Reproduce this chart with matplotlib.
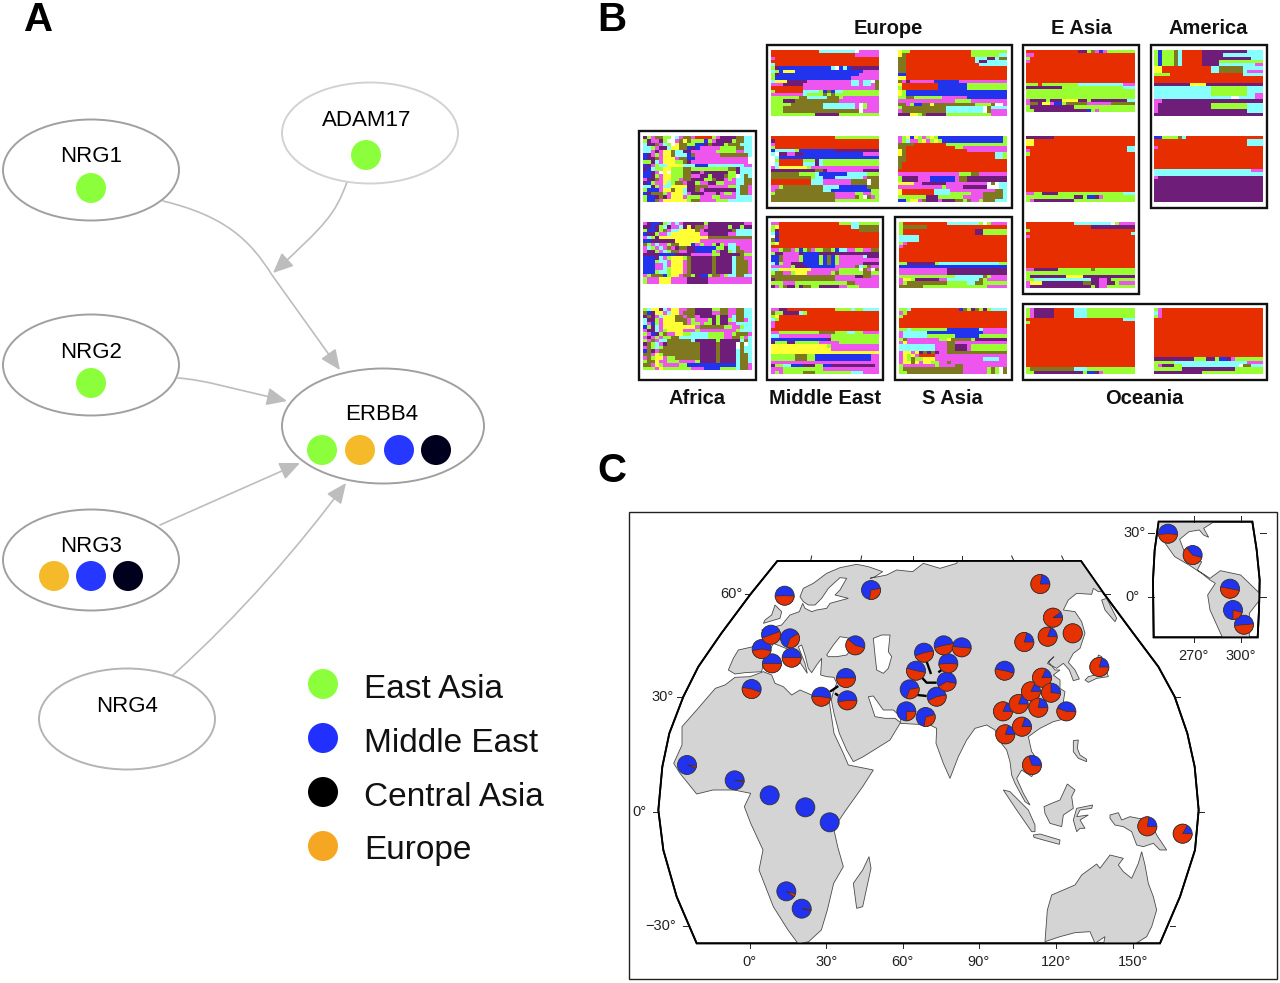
import numpy as np
import matplotlib
matplotlib.use("Agg")
import matplotlib.pyplot as plt
from matplotlib.colors import ListedColormap
from matplotlib.patches import Ellipse, Circle, Rectangle, Polygon, Wedge, FancyArrowPatch
from matplotlib.path import Path

plt.rcParams["font.family"] = ["Liberation Sans", "DejaVu Sans"]

# ---------------------------------------------------
# panel A: gene network
# ---------------------------------------------------
NODE_NAMES = ["NRG1", "ADAM17", "NRG2", "ERBB4", "NRG3", "NRG4"]
NODE_X = [91, 370, 91, 383, 91, 127]
NODE_Y = [170, 133, 365, 426, 560, 719]
NODE_W = [176, 176, 176, 202, 176, 176]
NODE_H = [101, 101, 101, 115, 101, 101]
NODE_EDGE = ["#A0A0A0", "#D2D2D2", "#A0A0A0", "#A0A0A0", "#A0A0A0", "#B4B4B4"]
LABEL_Y = [157, 120, 352, 414, 547, 707]
LABEL_X = [91, 367, 91, 382, 91, 127]

DOT_X = [91, 366, 91, 322, 360, 399, 436, 54, 91, 128]
DOT_Y = [188, 155, 383, 450, 450, 450, 450, 576, 576, 576]
DOT_COL = ["#8CFF3C", "#8CFF3C", "#8CFF3C", "#8CFF3C", "#F5BA2A", "#2638FF", "#00001E",
           "#F5BA2A", "#2638FF", "#00001E"]

LEGEND_NAMES = ["East Asia", "Middle East", "Central Asia", "Europe"]
LEGEND_COLS = ["#8CFF3C", "#2230FF", "#000000", "#F5A623"]
LEGEND_Y = [684, 738, 792, 846]

# cubic links between the nodes: start, control, control, end
LINK_1 = [(163, 201), (225, 216), (250, 240), (272, 275)]
LINK_1B = (340, 370)
LINK_2 = [(347, 182), (335, 215), (325, 225), (273, 273)]
LINK_3 = [(178, 378), (205, 380), (230, 388), (287, 401)]
LINK_4 = [(160, 525), (205, 505), (250, 485), (300, 463)]
LINK_5 = [(173, 675), (240, 615), (300, 545), (346, 483)]

# ---------------------------------------------------
# panel B: ancestry blocks, one letter per cell
# ---------------------------------------------------
LETTERS = "RGBMCPOYW"
BLOCK_COLS = ["#E62E00", "#99FF33", "#2233EE", "#EE55EE", "#88FFFF",
              "#6E1E78", "#807820", "#FFFF33", "#FFFFFF"]

EUROPE_1 = [
    "RRRRRRRRRRRRCCCCCCCCCWMMMMM", "RRRRRRRRRRRRRRRRRRRRRMMMMMM", "MRRRRRRRRRRRRRRRRRRRRRRRRRR",
    "RRRRRRRRRRRRRRRRRRRRRRRRRRR", "CRRRRRRRRRRRRRRRRRRRRRRRRRR", "GPBBBBBBBBBBBBBCWBCBPPPPPPP",
    "CGBYYYBBBBBBBBBBBBBBBBBMMMM", "GPBBBBBBBBBBBBBBBBBBBBMMMMM", "GBBBBBBBBBBBBBBBBBBBMMMMMMM",
    "CYYYPPPPPMMMMMMMMMMMCCMCCWO", "MMMPPPPPMMMMMMMMMMMMCCMCCMO", "RRRRRRRRMMMMMMMMMMMMMMMMMMO",
    "GRRRRRRRCCCCGBOBCCGGGGGGGGG", "MMMMMMMMCGGGGOGOGGGGGGGGGGG", "GGGGGGGOOCCCCCOOOGMMMMMMMMM",
    "GGGPPPOOOOOOOOOOOMMMMMMMMMM", "GGGGGOOOOOOOOCCCCCCCCMWGMMM", "GGGOOOOOOOOOOCCCCCCCCMWGMMM",
    "GGGOOOOOOOOOOOOOOOOOOOWMMMM", "GGGGGGGGGGGPPPPPPGGGGGGGGGG",
]
EUROPE_2 = [
    "YGGRRRRRRRRRRRRRRRGGGGGGGGG", "YORRRRRRRRRRRRRRRRGGGGGGGCC", "OORRRRRRRRRRRRRRRRRCCCPPCOO",
    "OORRRRRRRRRRRRRRRRRCPPCCCCC", "OORRRRRRRRRRRRRRRRRRCCCCCCC", "OORRRRRRRRRRRRRRRRRRRRRRRRR",
    "OORRRRRRRRRRRRRRRRRRRRRRRRR", "BBRRRRRRRRRRRRRRRRRRRRRRRRR", "YYRRRRRRRRRRRRRRRRRRRRRRRRR",
    "OMPMMMMMMBBBBBBMMMMMMMMMMMM", "YRRRRRRRRRBBBBBBBGGGGGGGGGG", "GRRRRRRRRRBBBBBBBGGGGGGGGGG",
    "YGBBBBBBBBBBBBBBBBBBBBBBBBB", "YGBBBBBBBBBBBBBBBBBBBBBBBBB", "GGOOGGGGGGGMMMMMMBBBBBBBBBB",
    "MMMMMMMMMMMMMMGGGGMMMMMMMMM", "OOMGBBOOYOOOOOOOOOOGGGGOWWM", "GOOOOOOOOOOOCCCCCCCCCWOCCCC",
    "MOOOOOOOOOOOCCCCCCCCCWOMMMM", "PPPYYGOPPPPPGGGGGGGGGGGMMMM",
]
EUROPE_3 = [
    "RRRRRRRRRRRRRRRRGGGGGGGGGGG", "PRRRRRRRRRRRRRRRRRRRRRRRRRR", "MRRRRRRRRRRRRRRRRRRRRRRRRRR",
    "GRRRRRRRRRRRRRRRRRRRRRRRRRR", "BCCCCCGBBBBBBBBBPPPPPPPPPPP", "CWPPMMPPBBBBBBBBBBBBBBBMMMM",
    "WCBBBBBBBBBBBBBBBBBBBBBBBBB", "WGRRRRRRGGGPCGGGGGGGGGGGGGG", "WCRRRRRRCCCPCGGGGGGGGGGGGGG",
    "MCYYYYYYYGMMMMMMMMMMMMMMMMM", "PPPPPPPPPPPOOPMMMMMMMMMPPPP", "OOOOOOOGGGGCBBBBBBBCCCCCGGG",
    "OOOOOOOOOOGCCBBBCCCCCCCMOOO", "RRRRRRRRRRCCCMMMMMMMOOOOWOO", "RRRRRRRRRRCCCMMMMMMMOOOOWOO",
    "MMGOOOOOOOOOOCCCCBBBBBBBOOO", "MOOOOOOOOOOOOCCBBBBBBBBBBGG", "GOOOOOOOOOOOOOOOMMMMMGGMMGG",
    "OOOOOOOOOOOOOOOOMMMMMOGWOMG", "OOOOOOOOOOOOOOOOGGGGGGGGGGG",
]
EUROPE_4 = [
    "MGYBYGMGYGBBBBBBBBBBBBBBBBG", "MGCMMGYMGYGBBBBBBBBBBBBBBBG", "OOOORRRRRRRRGGGGGGGGGGGGGGG",
    "OORRRRRRRRRRRRGGMMMMMMMMMMM", "YORRRRRRRRRRRRRRRMMMMMMMMMM", "YORRRRRRRRRRRRRRRRRRRRRRCCG",
    "OORRRRRRRRRRRRRRRRRRRRRRCCG", "OORRRRRRRRRRRRRRRRRRRRRRRRR", "ORRRRRRRRRRRRRRRRRRRRRRRRRR",
    "ORRRRRRRRRRRRRRRRRRRRRRRRRR", "RRRRRRRRRRRRRRRRRRRRRRRRRRR", "MMMMMMMMMMMMMMMGGGOOMMMMMMM",
    "GPPPPMMMBBBBBBMOOPPPPPPPPPP", "GPPPPMMMBBBBBBMOOPPPPPPPPPP", "YYYYMMPPPPPPMMMMMMMMMMWOWCC",
    "MMMMMMMMMMMGMMMMPPPPPPWWWCC", "YRRRRRRRRCCCCMMMMMMMMMMMOOC", "YRRRRRRRRCCCCGGGGGMMMOOOOOC",
    "GGGGGGGPPPGGGGGGMMMMMOOOOOC", "BBGYYMOPPPMPPPOOGOMMGOOOCCC",
]
MIDEAST_1 = [
    "MMRRRRRRRRRRRRRRRGGGCCGGGGG", "GYRRRRRRRRRRRRRRRRRRCCOOOOO", "GPRRRRRRRRRRRRRRRRRRRROOOOO",
    "CBRRRRRRRRRRRRRRRRRRRRRRRRR", "WPRRRRRRRRRRRRRRRRRRRRRRRRR", "OBRRRRRRRRRRRRRRRRRRRRRRRRR",
    "GYRRRRRRRRRRRRRRRRRRRRRRRRR", "RRRRRRRRRRRRRRRRRRRRRRRRRRR", "MMGOOMGBGOMGGOOGBCCMMGGMMOO",
    "GPPMMMMPBBBBPPPPPPPPPPPPPPP", "BBOMMMMGBBBBGBOBGMMMMMMCPPP", "BBOMMMMGBBBBGBOBGMMMMMMMMMM",
    "CBGMMPPPBBBBGBOBGMMMMMMPPPP", "MMMMMGPPPBBBBBBBMMMMMOCGOMM", "CCYYYYYYYYMMMMMMMGGGGGWOMWO",
    "GOOMMGYYYMMMMMMGOGGGGGGOOGG", "OOOOOOOOOOOOOOOOMMMMMPPOOMM", "POOOOOOOOOOOOOOOMMMMMMMMMMM",
    "GGGMMMGGGGGGGGGGGGGOOMMMMMM", "PMGOPPGPOOGGPPPPPMMGGGMMMMM",
]
MIDEAST_2 = [
    "MMPPRRRRRRRRRRRRGGGGCGGCCCC", "OGGPPPPCGRRRRRRRRRRRRRRRRRR", "GYRRRRRRRRRRRRRRRRRRRRRRRRR",
    "CGRRRRRRRRRRRRRRRRRRRRRRRRR", "MRRRRRRRRRRRRRRRRRRRRRRRRRR", "MRRRRRRRRRRRRRRRRRRRRRRRRRR",
    "RRRRRRRRRRRRRRRRRRRRRRRRRRR", "MMGGGGGGGGGGOOOOGGGCCGGMMMM", "CCMMMMMMMMMMMMMGGGGGGGGGGGG",
    "BBBBBBBBBBBBBBPGGGGGGGGGGGG", "PGGGPPGGGGGGMMMMMGGGGGGGGGG", "YYYYYYYYYYYYYYGMMMMMMMMMMMM",
    "YYYYYYYYYYYYYYYMMMMMMMMMMMM", "YYYYYYYYYYYYYYYYYYYYYYYYYYY", "GGGGGGOOOGGBBBBBBBBBBBBBBMM",
    "GGGGGGOOOGGBBBBBBBBBBBBBBMM", "MMMMMMMMMMMMMMMMMMMMMMMMMMM", "PGGCCBBBPPPGGBBPPPPPPPPPPPM",
    "MMMGGGGGGGGGGMMMMMMMMMMMMMM", "MGMGGGGGOOOGGGGGGGGGCCCMMMM",
]
SASIA_1 = [
    "GRRRRRRRRRRRCCCCCCCCGWGMMMM", "GOOOOOORRRRRRRRRRRRRRRRRRRR", "GRRRRRRRRRRRRRRRRRRPPGGGGGG",
    "GRRRRRRRRRRRRRRRRRRPPGGGGGG", "CCCCCRRRRRRRRRRRRRRRRRRRRRR", "CCCCCRRRRRRRRRRRRRRRRRRRRRR",
    "GMRRRRRRRRRRRRRRRRRRRRRRRRR", "MRRRRRRRRRRRRRRRRRRRRRRRRRR", "RRRRRRRRRRRRRRRRRRRRRRRRRRR",
    "RRRRRRRRRRRRRRRRRRRRRRRRRRR", "RRRRRRRRRRRRRRRRRRRRRRRRRRR", "RRRRRRRRRRRRRRRRRRRRRRRRRRR",
    "GGPPPPPPPGCCCCCCCCCCCCCCCGG", "BBBBBBBBBBBBBBBBBBBBBBBBBBB", "MMMMMMMMMMMMPPPPPPPPPPPPPPP",
    "MMMMMMMMMMMMPPPPPPPPPPPPPPP", "GGGGGGGGGGGGGGCCCCCCCOGMMMM", "MYYGPPPPPPMMCCCCCCCCOGMMMMM",
    "MGOOOOOOOOOOGGGGGCCOOGGGGGG", "OOOOOOGGGGGGGGGGGGGGGGMMMMM",
]
SASIA_2 = [
    "GGCRRRRRRRRRRRRBOGPOGPGCCCC", "MGRRRRRRRRRRRRRRRRRRRRRRRRR", "GRRRRRRRRRRRRRRRRRRRRRRRRRR",
    "RRRRRRRRRRRRRRRRRRRRRRRRRRR", "RRRRRRRRRRRRRRRRRRRRRRRRRRR", "RRRRRRRRRRRRRRRRRRRRRRRRRRR",
    "GGCGGGGGGGGGBBBBBBBBCMMMMMM", "MCCCCCCBBBBBBBBBBBBBBMMMMMM", "MCCCCCCGGGGGGGBBBBBBGGGGGGG",
    "GOMMMMMMMMGGYOOOOOGPPPPPPPP", "MYMMMMMMMMMMOOMMMMMMMMMMMMM", "CCCCCCCCCMMMOOPPPMGGGGGGGGG",
    "CCCCCCCCCMMMOOPPPMGGGGGGGGG", "MYYMYPOPOPMMOOOOOOOOOOOOOOO", "MYGYMRRRRMMMMMMMMMMMMMMMMMM",
    "MYGOGGYYYMMMMMMMMMMMMCCCCMM", "MYYOYMYYGGMMOMMMMMMMMMMMMMM", "GMMMMMMMMGMMMMOOMMMMMMMMMMM",
    "GOOOOOOOOOOOOOOOMMMMMMGOGWO", "GGOOOOOOOOOOOOOOMMMMMMGOGWO",
]
EASIA_1 = [
    "RRRRRRRRRRRRRPPGOMBMGGGGGGG", "MMRRRRRRRRRRRRRRRRRRRRRRRRR", "GRRRRRRRRRRRRRRRRRRRRRRRRRR",
    "MRRRRRRRRRRRRRRRRRRRRRRRRRR", "RRRRRRRRRRRRRRRRRRRRRRRRRRR", "RRRRRRRRRRRRRRRRRRRRRRRRRRR",
    "RRRRRRRRRRRRRRRRRRRRRRRRRRR", "RRRRRRRRRRRRRRRRRRRRRRRRRRR", "RRRRRRRRRRRRRRRRRRRRRRRRRRR",
    "RRRRRRRRRRRRRRRRRRRRRRRRRRR", "GGGRGGGGGGGGGCCCCCCCCCCCMMM", "PPPPPPPPPGGGGGGGGGGGGGGGCCC",
    "GGGGGGGGGGGGGGGGGGGGGGGGGGG", "GGGGGGGGGGGGGGGGGGGGGGGGGGG", "GGGGGGGGGGGGGGGGGGGGGGGGGGG",
    "MPPPPGPPPYYYYPPGPPPPPPPPPCC", "MOOPYYMBBGOOOOOMMMMMMOOOOOO", "GPPPPPPPPPPPGGGGGGGGGGGGGGG",
    "GGPPPPPPPPPPPPPBGMGGGGGGGGG",
]
EASIA_2 = [
    "PPPPPPPRRRRRRRRRRRRRRRRRRRR", "YYRRRRRRRRRRRRRRRRRRRRRRRRR", "YYRRRRRRRRRRRRRRRRRRRRRRRRR",
    "RRRRRRRRRRRRRRRRRRRRRRRRRCC", "MRRRRRRRRRRRRRRRRRRRRRRRRCC", "GRRRRRRRRRRRRRRRRRRRRRRRRRR",
    "RRRRRRRRRRRRRRRRRRRRRRRRRRR", "RRRRRRRRRRRRRRRRRRRRRRRRRRR", "RRRRRRRRRRRRRRRRRRRRRRRRRRR",
    "RRRRRRRRRRRRRRRRRRRRRRRRRRR", "RRRRRRRRRRRRRRRRRRRRRRRRRRR", "RRRRRRRRRRRRRRRRRRRRRRRRRRR",
    "RRRRRRRRRRRRRRRRRRRRRRRRRRR", "RRRRRRRRRRRRRRRRRRRRRRRRRRR", "RRRRRRRRRRRRRRRRRRRRRRRRRRR",
    "RRRRRRRRRRRRRRRRRRRRRRRRRRR", "RRRRRRRRRRRRRRRRRRRRRRRRRRR", "MMGGPPPPGGGGGGGGGGGGGGGGCCC",
    "GGGGGGGGGGGGPPGBBPMGGGGGGGG", "GMPPPPPPPPPPGGGGGGGGGGGGGGG",
]
EASIA_3 = [
    "RRRRRRRRRRRRCCCCCCCCCWGMMMM", "RRRRRRRRRRRRRRRRPPPPPPPPPPP", "GRRRRRRRRRRRRRRRRRRRRRRRRRR",
    "RRRRRRRRRRRRRRRRRRRRRRRRRRC", "MRRRRRRRRRRRRRRRRRRRRRRRRRR", "RRRRRRRRRRRRRRRRRRRRRRRRRRR",
    "RRRRRRRRRRRRRRRRRRRRRRRRRRR", "RRRRRRRRRRRRRRRRRRRRRRRRRRR", "RRRRRRRRRRRRRRRRRRRRRRRRRRR",
    "RRRRRRRRRRRRRRRRRRRRRRRRRRR", "RRRRRRRRRRRRRRRRRRRRRRRRRRR", "RRRRRRRRRRRRRRRRRRRRRRRRRRR",
    "RRRRRRRRRRRRRRRRRRRRRRRRRRR", "RRRRRRRRRRRRRRRRRRRRRRRRRRR", "MMPPPPPPGGGGGGGGOGGGGGGGGGG",
    "GGGGGGGGGGGGGGGGGGGGGGGGGGG", "GPPPPPPPPPYYYYPPPPPPPPPPPPP", "GGCCCCCCCCCCCCCCPPMMPGGGGGG",
    "MYYYPPPPPPPPPPOOPPMMPPGMMMM", "MPPPPPPPPPPPPPPPGPMMGGGGGGG",
]
AMERICA_1 = [
    "GBGGGOCRRRRRPPPPPPPPPPPCCCC", "GBGGGOCRRRRRPPPPPCCCCCCCCCC", "GBGGGOCRRRRRPPPPPPPPPPPPCCC",
    "GBGGGOCRRRRRPPPPGGGGGGGGGGG", "GBGGGOCRRRRRPPPPCCCCCCCCCMM", "YYRRRRRRRRRRRRCCOOOOOOCCCCC",
    "YYRRRRRRRRRRRRCCOOOOOOCMMMM", "GGGGRRRRRRRRRRRRRRRRRRCCCCC", "RRRRRRRRRRRRRRRRRRRRRRRRRRR",
    "RRRRRRRRRRRRRRRRRRRRRRRRRRR", "PPPPPPPPPYYYYPPPPPPPPPPPPPP", "CCCCCCCCCCCCCCGGGGGGGGGCCCC",
    "CCCCCCCCCCCCCCGGGGGGGGGCCCC", "CCCCCCCCCCCCCCGGGGGGGGGCCMM", "CCCCCCCCCCCCCCCCCCCWWCCCCMM",
    "MMPPPPPPPPPPPPPPPPPPPPPPPPP", "MPPPPPPPPPPPPPGGGGGGGGGCCCC", "MPPPPPPPPPPPPPGGGGGGGGGCCCC",
    "MPPPPPPPPPPPPPPPPPPPPPPCCCC", "PPPPPPPPPPPPPPPPPPPPPPPPPPP",
]
AMERICA_2 = [
    "BBGGGGOCRRRRRRRRRRRRRRRRRRR", "RRRRRRRRRRRRRRRRRRRRRRRCCCC", "RRRRRRRRRRRRRRRRRRRRRRRCCCC",
    "MRRRRRRRRRRRRRRRRRRRRRRRRRR", "RRRRRRRRRRRRRRRRRRRRRRRRRRR", "RRRRRRRRRRRRRRRRRRRRRRRRRRR",
    "RRRRRRRRRRRRRRRRRRRRRRRRRRR", "RRRRRRRRRRRRRRRRRRRRRRRRRRR", "RRRRRRRRRRRRRRRRRRRRRRRRRRR",
    "RRRRRRRRRRRRRRRRRRRRRRRRRRR", "CCCCCCCCCCCCCCCCCCCCCCCCMMM", "CCCCCCCCCCCCCCCCCCCCCCCCCCC",
    "MPPPPPPPPPPPPPPPPPPPPPPPPPP", "PPPPPPPPPPPPPPPPPPPPPPPPPPP", "PPPPPPPPPPPPPPPPPPPPPPPPPPP",
    "PPPPPPPPPPPPPPPPPPPPPPPPPPP", "PPPPPPPPPPPPPPPPPPPPPPPPPPP", "PPPPPPPPPPPPPPPPPPPPPPPPPPP",
    "PPPPPPPPPPPPPPPPPPPPPPPPPPP", "PPPPPPPPPPPPPPPPPPPPPPPPPPP",
]
OCEANIA_1 = [
    "GMPPPPPRRRRRCCCGGGGGGGGGGGG", "GMPPPPPRRRRRCCCGGGGGGGGGGGG", "GMPPPPPRRRRRCCCGGGGGGGGGGGG",
    "RRRRRRRRRRRRRRRRRRRRRRRRCCC", "GRRRRRRRRRRRRRRRRRRRRRRRRRR", "RRRRRRRRRRRRRRRRRRRRRRRRRRR",
    "RRRRRRRRRRRRRRRRRRRRRRRRRRR", "RRRRRRRRRRRRRRRRRRRRRRRRRRR", "RRRRRRRRRRRRRRRRRRRRRRRRRRR",
    "RRRRRRRRRRRRRRRRRRRRRRRRRRR", "RRRRRRRRRRRRRRRRRRRRRRRRRRR", "RRRRRRRRRRRRRRRRRRRRRRRRRRR",
    "RRRRRRRRRRRRRRRRRRRRRRRRRRR", "RRRRRRRRRRRRRRRRRRRRRRRRRRR", "RRRRRRRRRRRRRRRRRRRRRRRRRRR",
    "RRRRRRRRRRRRRRRRRRRRRRRRRRR", "RRRRRRRRRRRRRRRRRRRRRRRRRRR", "RRRRRRRRRRRRRRRRRRRRRRRRRRR",
    "GOOOOOOOOOOOCCCGGGGGGGGGGGG", "GGPPPPPPPPPPPPGBBPMGGGGGGGG",
]
OCEANIA_2 = [
    "GMRRRRRRRRRRRRRRRRRRRRRRRRR", "CMRRRRRRRRRRRRRRRRRRRRRRRRR", "GMRRRRRRRRRRRRRRRRRRRRRRRRR",
    "RRRRRRRRRRRRRRRRRRRRRRRRRRR", "RRRRRRRRRRRRRRRRRRRRRRRRRRR", "RRRRRRRRRRRRRRRRRRRRRRRRRRR",
    "RRRRRRRRRRRRRRRRRRRRRRRRRRR", "RRRRRRRRRRRRRRRRRRRRRRRRRRR", "RRRRRRRRRRRRRRRRRRRRRRRRRRR",
    "RRRRRRRRRRRRRRRRRRRRRRRRRRR", "RRRRRRRRRRRRRRRRRRRRRRRRRRR", "RRRRRRRRRRRRRRRRRRRRRRRRRRR",
    "RRRRRRRRRRRRRRRRRRRRRRRRRRR", "RRRRRRRRRRRRRRRRRRRRRRRRRRR", "RRRRRRRRRRRRRRRRRRRRRRRRRRR",
    "PPPPPPPPPPGGGPPGBBPMGGGGGGG", "GGGGGCCCCCCCCCCCCCCCCCCMMMM", "GMPPPGGCCCCCCCCCCCCCCWOOCCC",
    "GGGGGGGPPPPPPPPPPPPPGGGGGGG", "PPPPPPPPPPPPGGGGGGGGGGGGGGG",
]
AFRICA_1 = [
    "PGMOOGGWCMOOMRRRRGMPPPPOOCC", "GPMMPGWWMOYOGGGBGMPPPPGOOCC", "CPPOMCGWYOOGGBBPOPPPGOOOCCC",
    "CCGMPPCYYOOBPBMMMMMGGGGOOCC", "CCMPMYYOCCPPMMMMMMGGGGGMMCC", "BPMGMYYOCCCBOMMMMMMOOOOOOOC",
    "BPPOMYYYMOOBBMMMMMMMMMMMMMW", "GGPCMYYYGGOPMMMMMMMMMMMMMMW", "BPMGCCYYYYCCCBBBCCCCCCCCCMM",
    "PBCGGYYGGGOOGGGGGGGGGOOPCCC", "BBPMWYWGGGOOPPMPPPPPPGGPCCC", "BBPGMYYGGGOOMMPPGPPPOGGWCOC",
    "MPPOMYYGGMOOPPPGGOPPMGMCCOO", "PBGMMYCGOOMPPGMMPPGGMMMCCOO", "CCPGMCCYYYYPPOOOMMMMMGGCOOM",
    "GBBBMYYOYYCPPOMPPPPPPPPCOOM", "BPOOOGMYYYCMPPPMMMPMGGMCOOM", "GBBPOPMYYYMGGGMMMGGMMMMCCCC",
    "GBBOMYYYYYYGOOMMMMGGGCCCCCC",
]
AFRICA_2 = [
    "MPBBPGCMCMPPPPPGPPPPPPPPPMM", "PPBPGCPMMCPYPOOMPPPPPGPPGPP", "GBBPGOMCCYYYYOMPPPPPPPOCCCC",
    "BPPGMMCYYYYYYYMMPPPPPMMCCCC", "MCGPYYYYYYYYYYYYOOOOOOOOOOO", "BBPPPPPPYYYYYYMMMMMMMMMMMMM",
    "OGMCMMGOOYYYBMGMMGPGMCCMMMM", "MCGMCMOMPOOPPBBBBBGGPCCOMMM", "MPPGMCGOOMMPPBBBBGMPPGCOOMM",
    "PPPPBBBBPPPPMMMMMGGPPPPPOGG", "BBBPCMGYYYGOPPPPPOPPPPCOOMM", "BBBGCCMYYYMOPPPPPOPPPPCOOOM",
    "BBBMMCMYYYMOPPPPPOPPPPCOOOM", "BBBMMCGYYYMOPPPPPOPPPPCOOOM", "BBBGCCGYYYMOPPPPPOPPPPCOOOM",
    "MGOOOBGYYMOOGPBBGOOMGCCOOCC", "GMMMYYYMMMMPPPPPMMMMMMMMMMM", "GMMMYYYMMMMPPPPPMMMMMMMMMMM",
]
AFRICA_3 = [
    "GCYYPCMYYMMOOPPPPGGOOMMOOCC", "OBPYYMCYYMOOOPPPPMMOOMMOOCC", "POPMCYYYOOMOOMPPPPGPPMCOOCC",
    "CPPGMYYYOOOMGMMMGPGPPGCOOMC", "CMBGMYYYYYOMGGMGGPGPPMMCCCC", "BGPCMYYYYYYYYMOOOOOOGGMMGCC",
    "MPPCMGYYYYMMMGMMMMMMMMMGCCC", "GMBPGOMMYYGGCCCCGGGGMMGOOOM", "MPMGMGGOOCCCCCCCGGGGMMOOGMC",
    "GMOMCCOOOOOOCPPPPPGPPPPPCOC", "POGCMPOOOOOOOOPPPPOPPPPWOWC", "MOGCGOOOOOOOOOPPPPOPPPPWOCC",
    "BOPMOOOOOOOOOOPPPPOPPPPCOCC", "OOMYGOOOOOOOOOPPPPOPPPPCOOC", "MOGYYMGGOOOOOOPPPPOPPPPCOOC",
    "GOOYMMGGGMMMMGPPPPOPPPPCOOC", "OOMYGMMMMGGBBBBBBBBBBBBCOOM", "GGGMYGGGGGGGMMMBBBBGGGGCOOM",
]

# block, left, right, top, bottom in pixels
BLOCKS = [
    (EUROPE_1, 771, 879, 50, 116), (EUROPE_2, 898, 1007, 50, 116),
    (EUROPE_3, 771, 879, 136, 202), (EUROPE_4, 898, 1007, 136, 202),
    (AFRICA_1, 643, 752, 136, 202), (AFRICA_2, 643, 752, 222, 284), (AFRICA_3, 643, 752, 308, 370),
    (MIDEAST_1, 771, 879, 222, 288), (MIDEAST_2, 771, 879, 308, 374),
    (SASIA_1, 899, 1007, 222, 288), (SASIA_2, 899, 1007, 308, 374),
    (EASIA_1, 1026, 1135, 50, 112), (EASIA_2, 1026, 1135, 136, 202), (EASIA_3, 1026, 1135, 222, 288),
    (AMERICA_1, 1154, 1263, 50, 116), (AMERICA_2, 1154, 1263, 136, 202),
    (OCEANIA_1, 1026, 1135, 308, 374), (OCEANIA_2, 1154, 1263, 308, 374),
]
BOXES = [(639, 131, 756, 380), (767, 45, 1012, 208), (767, 217, 883, 380), (895, 217, 1012, 380),
         (1023, 45, 1139, 294), (1151, 45, 1267, 208), (1023, 304, 1267, 380)]
BOX_LABELS = ["Europe", "E Asia", "America", "Africa", "Middle East", "S Asia", "Oceania"]
BOX_LABEL_X = [888, 1081, 1208, 697, 825, 952, 1144]
BOX_LABEL_Y = [29, 29, 29, 398, 398, 398, 398]

# ---------------------------------------------------
# panel C: map, units are 3 per pixel from (630, 500)
# ---------------------------------------------------
FRAME_L = [(442, 183), (362, 282), (274, 400), (205, 500), (160, 590), (118, 700), (97, 800),
           (85, 930), (100, 1050), (140, 1190), (200, 1330)]
FRAME_R = [(1353, 183), (1421, 280), (1510, 400), (1585, 500), (1634, 590), (1672, 700), (1694, 800),
           (1706, 930), (1695, 1050), (1650, 1190), (1590, 1330)]
INSET_L = [(1586, 65), (1574, 150), (1569, 240), (1570, 330), (1571, 412)]
INSET_R = [(1867, 65), (1880, 150), (1889, 240), (1887, 330), (1883, 412)]

AFRICA = [(597, 590), (600, 620), (612, 700), (640, 760), (655, 795), (730, 810), (698, 860),
          (648, 930), (611, 985), (623, 1040), (640, 1100), (611, 1150), (592, 1230), (574, 1290),
          (536, 1325), (505, 1332), (474, 1290), (430, 1220), (387, 1110), (399, 1050), (362, 970),
          (343, 920), (362, 880), (312, 870), (249, 870), (200, 882), (150, 820), (131, 790),
          (156, 735), (156, 680), (200, 630), (256, 565), (285, 555), (315, 532), (360, 530),
          (400, 515), (425, 525), (435, 550), (460, 560), (485, 585), (510, 570), (545, 585)]
EURASIA = [(295, 510), (310, 475), (325, 450), (370, 440), (405, 425), (405, 400), (395, 390),
           (455, 375), (480, 345), (508, 335), (518, 310), (525, 325), (545, 335), (560, 330),
           (590, 325), (600, 310), (655, 295), (615, 285), (630, 270), (650, 235), (630, 233),
           (595, 265), (575, 295), (555, 315), (535, 315), (520, 305), (510, 290), (520, 265),
           (550, 250), (590, 220), (630, 203), (680, 193), (715, 200), (758, 215), (735, 230),
           (720, 235), (770, 225), (800, 210), (848, 215), (880, 190), (930, 205), (980, 190),
           (1000, 150), (1340, 150), (1430, 275), (1405, 275), (1390, 265), (1385, 283), (1340, 280),
           (1315, 300), (1300, 330), (1335, 335), (1355, 365), (1365, 400), (1350, 445), (1330, 460),
           (1315, 487), (1335, 510), (1348, 537), (1330, 542), (1318, 510), (1300, 490), (1280, 505),
           (1252, 490), (1272, 470), (1255, 485), (1275, 510), (1290, 510), (1270, 525), (1290, 540),
           (1290, 565), (1305, 575), (1300, 605), (1325, 635), (1310, 655), (1270, 665), (1230, 685),
           (1195, 710), (1205, 755), (1230, 790), (1205, 830), (1175, 810), (1160, 835), (1180, 880),
           (1200, 915), (1185, 905), (1155, 850), (1145, 825), (1140, 785), (1130, 750), (1110, 725),
           (1095, 690), (1070, 675), (1035, 685), (1010, 720), (985, 770), (960, 835), (940, 790),
           (918, 730), (920, 685), (900, 675), (810, 670), (780, 720), (700, 770), (670, 785),
           (650, 750), (628, 700), (612, 640), (604, 600), (610, 575), (620, 550), (612, 532),
           (590, 530), (572, 525), (575, 475), (560, 495), (545, 518), (535, 505), (525, 465),
           (515, 435), (505, 440), (525, 490), (532, 520), (505, 480), (480, 450), (430, 430),
           (400, 490), (395, 515), (345, 518), (315, 522)]
BRITAIN = [(400, 370), (450, 355), (455, 335), (435, 315), (425, 345), (405, 360)]
SAKHALIN = [(1415, 300), (1430, 295), (1460, 355), (1455, 365), (1425, 330)]
JAPAN = [(1365, 540), (1375, 530), (1395, 525), (1405, 465), (1415, 470), (1435, 530), (1400, 535), (1375, 547)]
PHILIPPINES = [(1330, 722), (1345, 720), (1342, 745), (1350, 765), (1370, 778), (1370, 785), (1345, 775), (1330, 755)]
SUMATRA = [(1120, 870), (1140, 875), (1195, 930), (1215, 975), (1215, 995), (1205, 995), (1160, 930)]
JAVA = [(1210, 1005), (1230, 1002), (1290, 1020), (1288, 1033), (1240, 1020), (1212, 1012)]
BORNEO = [(1242, 920), (1265, 910), (1290, 900), (1312, 852), (1335, 870), (1325, 890), (1330, 925),
          (1300, 945), (1295, 980), (1260, 970), (1245, 940)]
SULAWESI = [(1340, 925), (1388, 915), (1385, 925), (1350, 930), (1340, 950), (1375, 945), (1350, 960),
            (1365, 985), (1350, 985), (1340, 995), (1330, 960)]
NEW_GUINEA = [(1440, 945), (1465, 938), (1475, 960), (1500, 950), (1525, 955), (1560, 960), (1580, 1005),
              (1610, 1050), (1590, 1050), (1570, 1030), (1540, 1040), (1520, 1035), (1505, 995),
              (1480, 980), (1455, 975), (1440, 955)]
MADAGASCAR = [(717, 1070), (723, 1105), (698, 1220), (680, 1225), (670, 1150), (698, 1110)]
AUSTRALIA = [(1245, 1325), (1252, 1230), (1265, 1185), (1335, 1155), (1355, 1125), (1400, 1092),
             (1410, 1105), (1440, 1065), (1480, 1075), (1465, 1095), (1480, 1115), (1505, 1135),
             (1525, 1090), (1535, 1055), (1545, 1095), (1555, 1150), (1570, 1190), (1580, 1230),
             (1565, 1280), (1550, 1310), (1510, 1335), (1420, 1335), (1425, 1310), (1395, 1330),
             (1380, 1295), (1335, 1298), (1290, 1310)]
AMERICAS = [(1586, 65), (1752, 65), (1721, 85), (1736, 112), (1721, 105), (1708, 90), (1677, 95),
            (1649, 118), (1665, 160), (1715, 185), (1702, 210), (1740, 235), (1771, 212), (1832, 225),
            (1889, 280), (1889, 300), (1858, 340), (1858, 412), (1777, 412), (1740, 330), (1733, 285),
            (1756, 250), (1740, 240), (1715, 220), (1677, 195), (1634, 170), (1602, 125), (1583, 100)]
BLACK_SEA = [(590, 465), (610, 435), (630, 410), (660, 415), (670, 440), (650, 465), (620, 470), (595, 470)]
CASPIAN = [(730, 415), (755, 405), (780, 405), (775, 455), (785, 470), (775, 505), (760, 520), (740, 510), (735, 465)]
PERSIAN_GULF = [(715, 590), (730, 588), (760, 630), (790, 630), (812, 650), (812, 668), (795, 655), (765, 655), (735, 650), (725, 620)]

# pie centres and the red slice, degrees counterclockwise from east
PIE_X = [464, 723, 423, 480, 395, 485, 426, 365, 676, 648, 574, 652,
         882, 941, 995, 955, 858, 950, 839, 920, 829, 887,
         171, 314, 419, 526, 599, 469, 515,
         1231, 1269, 1253, 1328, 1183, 1124, 1408, 1236, 1203, 1263, 1166, 1225, 1309, 1119, 1176, 1126, 1206,
         1552, 1658, 1614, 1688, 1800, 1809, 1842]
PIE_Y = [287, 270, 404, 415, 447, 473, 490, 567, 436, 534, 590, 601,
         458, 436, 442, 490, 512, 545, 568, 590, 634, 651,
         795, 841, 886, 922, 967, 1174, 1226,
         252, 353, 410, 400, 426, 512, 501, 533, 574, 578, 612, 623, 634, 634, 680, 703, 795,
         979, 1001, 101, 165, 266, 330, 374]
RED_FROM = [182, 260, 200, 250, 190, 180, 180, 170, 140, 180, 180, 190,
            200, 195, 175, 185, 165, 210, 250, 205, 270, 260,
            340, 348, 0, 0, 0, 325, 345,
            80, 35, 70, 0, 75, 170, 75, 65, 65, 90, 70, 80, 160, 65, 70, 70, 110,
            80, 60, 185, 130, 170, 270, 185]
RED_TO = [358, 370, 380, 390, 350, 360, 358, 340, 345, 360, 350, 360,
          370, 370, 355, 355, 350, 350, 370, 370, 360, 375,
          352, 357, 0, 0, 0, 345, 355,
          360, 360, 360, 360, 360, 345, 360, 360, 360, 355, 360, 360, 360, 360, 360, 360, 355,
          360, 360, 355, 345, 350, 345, 365]
PIE_BLUE = "#2233F0"
PIE_RED = "#E63200"

# black leader lines
LEADERS = [[(903, 522), (890, 485)], [(875, 532), (890, 548), (920, 548)], [(862, 585), (890, 588)],
           [(925, 517), (935, 510)], [(600, 575), (625, 558)], [(615, 580), (625, 587)]]

# graticule ticks and labels
X_TICK_LABELS = ["0°", "30°", "60°", "90°", "120°", "150°"]
X_TICK_POS = [359, 589, 818, 1047, 1278, 1509]
TOP_TICK_POS = [545, 695, 848, 995, 1145, 1295]
Y_TICK_LABELS = ["60°", "30°", "0°", "−30°"]
Y_TICK_POS = [282, 592, 935, 1278]
Y_LABEL_RIGHT = [337, 131, 50, 137]
Y_TICK_LEFT = [(345, 360), (140, 158), (68, 85), (160, 178)]
Y_TICK_RIGHT = [(1420, 1440), (1634, 1650), (1706, 1722), (1620, 1635)]
INSET_Y_LABELS = ["30°", "0°"]
INSET_Y_POS = [99, 290]
INSET_Y_RIGHT = [1546, 1528]
INSET_X_LABELS = ["270°", "300°"]
INSET_X_POS = [1691, 1833]


def decode_block(rows):
    width = max(len(r) for r in rows)
    return np.array([[LETTERS.index(c) for c in r.ljust(width, r[-1])] for r in rows])


def draw_network(ax):
    head = "-|>,head_length=0.95,head_width=0.42"
    for link in [LINK_2, LINK_3, LINK_4, LINK_5]:
        p = Path(link, [Path.MOVETO, Path.CURVE4, Path.CURVE4, Path.CURVE4])
        ax.add_patch(FancyArrowPatch(path=p, arrowstyle=head, mutation_scale=13, color="#BDBDBD", lw=1.2, zorder=1))
    p = Path(LINK_1 + [LINK_1B], [Path.MOVETO, Path.CURVE4, Path.CURVE4, Path.CURVE4, Path.LINETO])
    ax.add_patch(FancyArrowPatch(path=p, arrowstyle=head, mutation_scale=13, color="#BDBDBD", lw=1.2, zorder=1))

    for i, name in enumerate(NODE_NAMES):
        ax.add_patch(Ellipse((NODE_X[i], NODE_Y[i]), NODE_W[i], NODE_H[i], fc="white", ec=NODE_EDGE[i],
                             lw=1.4, zorder=2))
        ax.text(LABEL_X[i], LABEL_Y[i], name, ha="center", va="center", fontsize=16, zorder=3)
    for x, y, c in zip(DOT_X, DOT_Y, DOT_COL):
        ax.add_patch(Circle((x, y), 15, fc=c, ec="none", zorder=3))
    for name, c, y in zip(LEGEND_NAMES, LEGEND_COLS, LEGEND_Y):
        ax.add_patch(Circle((323, y), 15, fc=c, ec="none", zorder=3))
        ax.text(364, y + 5, name, ha="left", va="center", fontsize=24, color="#111111")


def draw_blocks(ax):
    cmap = ListedColormap(BLOCK_COLS)
    for rows, x0, x1, y0, y1 in BLOCKS:
        ax.imshow(decode_block(rows), cmap=cmap, vmin=-0.5, vmax=len(BLOCK_COLS) - 0.5, aspect="auto",
                  interpolation="nearest", extent=(x0, x1, y1, y0))
    for x0, y0, x1, y1 in BOXES:
        ax.add_patch(Rectangle((x0, y0), x1 - x0, y1 - y0, fc="none", ec="#111111", lw=1.7))
    for name, x, y in zip(BOX_LABELS, BOX_LABEL_X, BOX_LABEL_Y):
        ax.text(x, y, name, ha="center", va="center", fontsize=14.5, fontweight="bold", color="#111111")


def draw_map(ax):
    frame = Polygon(FRAME_L + FRAME_R[::-1], closed=True, fc="white", ec="black", lw=1.3, zorder=1)
    inset = Polygon(INSET_L + INSET_R[::-1], closed=True, fc="white", ec="black", lw=1.3, zorder=1)
    ax.add_patch(frame)
    ax.add_patch(inset)

    land_kw = dict(closed=True, fc="#D4D4D4", ec="#4A4A4A", lw=0.6, zorder=2)
    for shape in [AFRICA, EURASIA, BRITAIN, SAKHALIN, JAPAN, PHILIPPINES, SUMATRA, JAVA, BORNEO, SULAWESI,
                  NEW_GUINEA, MADAGASCAR, AUSTRALIA]:
        land = Polygon(shape, **land_kw)
        ax.add_patch(land)
        land.set_clip_path(frame)
    land = Polygon(AMERICAS, **land_kw)
    ax.add_patch(land)
    land.set_clip_path(inset)
    for sea in [BLACK_SEA, CASPIAN, PERSIAN_GULF]:
        ax.add_patch(Polygon(sea, closed=True, fc="white", ec="#4A4A4A", lw=0.6, zorder=3))

    # frames again on top of the land
    ax.add_patch(Polygon(FRAME_L + FRAME_R[::-1], closed=True, fc="none", ec="black", lw=1.3, zorder=4))
    ax.add_patch(Polygon(INSET_L + INSET_R[::-1], closed=True, fc="none", ec="black", lw=1.3, zorder=4))

    for leg in LEADERS:
        ax.plot([p[0] for p in leg], [p[1] for p in leg], color="black", lw=1.7, zorder=5,
                solid_capstyle="butt")

    for x, y, a, b in zip(PIE_X, PIE_Y, RED_FROM, RED_TO):
        ax.add_patch(Circle((x, y), 28.5, fc=PIE_BLUE, ec="#303030", lw=0.6, zorder=6))
        if b > a:
            # y axis runs downward, so the angles flip
            ax.add_patch(Wedge((x, y), 28.5, -b, -a, fc=PIE_RED, ec="#303030", lw=0.5, zorder=7))

    tick_kw = dict(color="#222222", lw=0.7, zorder=3)
    for x, x2 in zip(TOP_TICK_POS, [x - 3 for x in TOP_TICK_POS[:2]] + [x for x in TOP_TICK_POS[2:4]] +
                     [x + 7 for x in TOP_TICK_POS[4:]]):
        ax.plot([x, x2], [168, 183], **tick_kw)
    for x, label in zip(X_TICK_POS, X_TICK_LABELS):
        ax.plot([x, x], [1330, 1345], **tick_kw)
        ax.text(x, 1386, label, ha="center", va="center", fontsize=10.5, color="#222222")
    for y, label, r, tl, tr in zip(Y_TICK_POS, Y_TICK_LABELS, Y_LABEL_RIGHT, Y_TICK_LEFT, Y_TICK_RIGHT):
        ax.plot(tl, [y, y], **tick_kw)
        ax.plot(tr, [y, y], **tick_kw)
        ax.text(r, y, label, ha="right", va="center", fontsize=10.5, color="#222222")

    for y, label, r in zip(INSET_Y_POS, INSET_Y_LABELS, INSET_Y_RIGHT):
        ax.plot([1553, 1572], [y, y], **tick_kw)
        ax.plot([1889, 1908], [y, y], **tick_kw)
        ax.text(r, y, label, ha="right", va="center", fontsize=10.5, color="#222222")
    for x, label in zip(INSET_X_POS, INSET_X_LABELS):
        ax.plot([x, x], [48, 65], **tick_kw)
        ax.plot([x, x], [412, 425], **tick_kw)
        ax.text(x, 468, label, ha="center", va="center", fontsize=10.5, color="#222222")


def main():
    fig = plt.figure(figsize=(12.8, 9.83), dpi=100, facecolor="white")

    # whole page in pixels
    ax = fig.add_axes([0, 0, 1, 1])
    draw_network(ax)
    draw_blocks(ax)
    ax.add_patch(Rectangle((629, 512), 648, 467, fc="none", ec="#222222", lw=1.0))
    for letter, x, y in [("A", 39, 20), ("B", 612, 20), ("C", 612, 471)]:
        ax.text(x, y, letter, ha="center", va="center", fontsize=29, fontweight="bold")
    ax.set_xlim(0, 1280)
    ax.set_ylim(983, 0)
    ax.axis("off")

    # map panel has its own units
    ax_map = fig.add_axes([630 / 1280, 0, 650 / 1280, 483 / 983])
    ax_map.patch.set_alpha(0)
    draw_map(ax_map)
    ax_map.set_xlim(0, 1950)
    ax_map.set_ylim(1449, 0)
    ax_map.axis("off")

    fig.savefig("out.png", dpi=100)


if __name__ == "__main__":
    main()
